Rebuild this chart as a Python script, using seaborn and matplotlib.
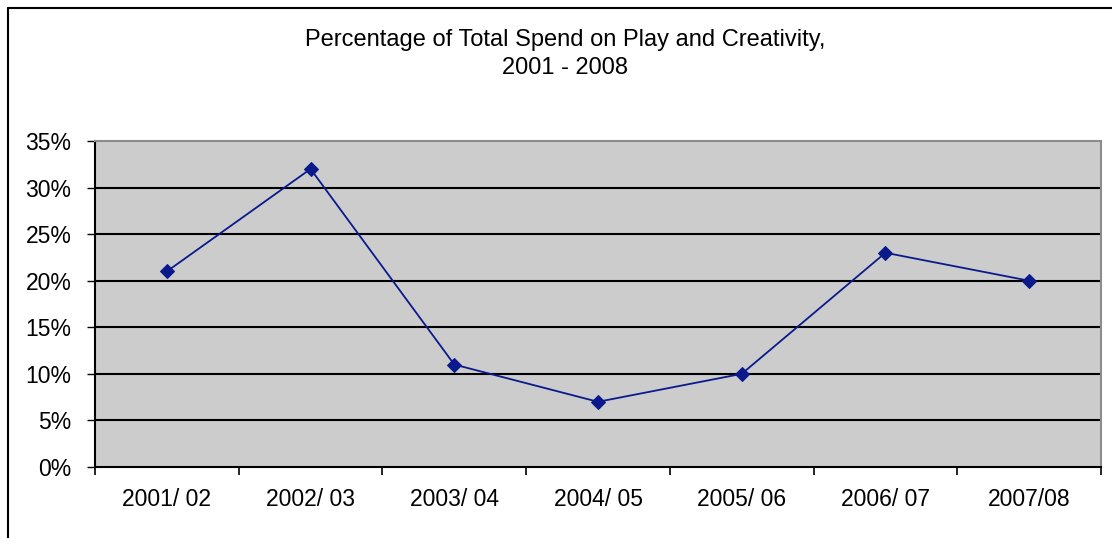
import matplotlib
matplotlib.use("Agg")
import matplotlib.pyplot as plt
import seaborn as sns
import pandas as pd
from matplotlib.lines import Line2D
from matplotlib.ticker import FixedLocator, FuncFormatter

categories = ["2001/ 02", "2002/ 03", "2003/ 04", "2004/ 05", "2005/ 06", "2006/ 07", "2007/08"]
values = [21, 32, 11, 7, 10, 23, 20]
y_ticks = [0, 5, 10, 15, 20, 25, 30, 35]
title_text = "Percentage of Total Spend on Play and Creativity,\n2001 - 2008"

sns.set_style("white")
plt.rcParams["font.family"] = ["Liberation Sans", "DejaVu Sans"]
plt.rcParams["text.color"] = "black"
plt.rcParams["xtick.color"] = "black"
plt.rcParams["ytick.color"] = "black"
plt.rcParams["xtick.labelcolor"] = "black"
plt.rcParams["ytick.labelcolor"] = "black"

fig = plt.figure(figsize=(11.12, 5.38), dpi=100)
ax = fig.add_axes([95 / 1112, 1 - 467 / 538, (1101 - 95) / 1112, (467 - 141) / 538])
ax.set_facecolor("#CCCCCC")

df = pd.DataFrame({"pos": range(len(categories)), "val": values})
sns.lineplot(data=df, x="pos", y="val", ax=ax, sort=False, color="#0A1A8C",
             linewidth=1.3, marker="D", markersize=7, markeredgecolor="#0A1A8C", zorder=3)

ax.set_xlim(-0.5, len(categories) - 0.5)
ax.set_ylim(0, 35)
ax.set_xlabel("")
ax.set_ylabel("")

# gridlines
for t in y_ticks[1:-1]:
    ax.axhline(t, color="black", linewidth=1.5, zorder=1)

ax.set_yticks(y_ticks)
ax.yaxis.set_major_formatter(FuncFormatter(lambda v, p: f"{int(v)}%"))
ax.tick_params(axis="y", which="major", direction="out", length=6, width=1, color="black",
               labelsize=16.5, pad=11, left=True)

ax.set_xticks(range(len(categories)))
ax.set_xticklabels(categories)
ax.xaxis.set_minor_locator(FixedLocator([i - 0.5 for i in range(len(categories) + 1)]))
ax.tick_params(axis="x", which="major", length=0, labelsize=16.5, pad=15)
ax.tick_params(axis="x", which="minor", direction="out", length=6, width=1.2, color="black", bottom=True)

for s in ["left", "bottom"]:
    ax.spines[s].set_color("black")
    ax.spines[s].set_linewidth(1.5)
for s in ["top", "right"]:
    ax.spines[s].set_color("#8C8C8C")
    ax.spines[s].set_linewidth(1.5)

fig.text(565 / 1112, 1 - 54 / 538, title_text, ha="center", va="center", fontsize=17,
         linespacing=1.38, color="black")

# outer chart frame (left and top edges visible)
fig.add_artist(Line2D([7.5 / 1112, 7.5 / 1112], [0, 1 - 7.5 / 538], transform=fig.transFigure,
                      color="black", linewidth=1.5))
fig.add_artist(Line2D([7.5 / 1112, 1], [1 - 7.5 / 538, 1 - 7.5 / 538], transform=fig.transFigure,
                      color="black", linewidth=1.5))

fig.savefig("out.png", dpi=100, facecolor="white")
